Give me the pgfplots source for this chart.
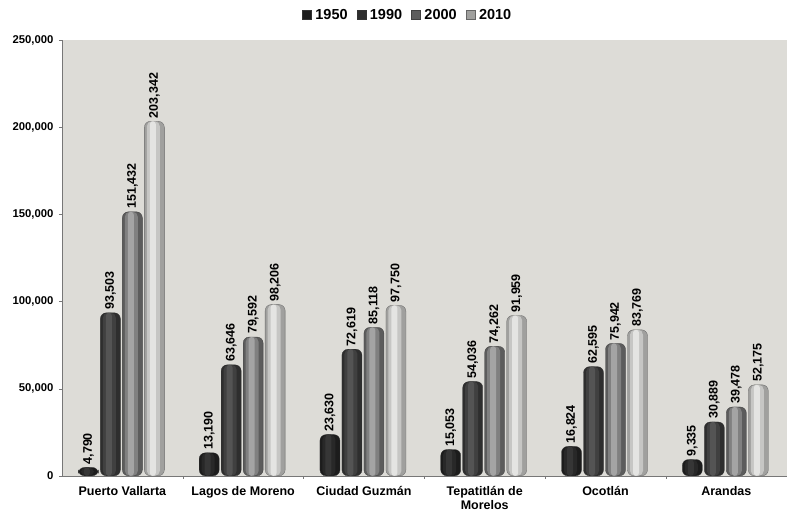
\documentclass[border=0pt]{standalone}
\usepackage{fontspec}
\setmainfont{Liberation Sans}
\usepackage{pgfplots}
\pgfplotsset{compat=1.18}
\definecolor{bg}{HTML}{DDDCD7}
\definecolor{axgray}{HTML}{777777}
% edge / mid / highlight tones of each cylinder
\definecolor{aE}{HTML}{1C1C1C}\definecolor{aM}{HTML}{282828}\definecolor{aH}{HTML}{363636}
\definecolor{bE}{HTML}{2E2E2E}\definecolor{bM}{HTML}{404040}\definecolor{bH}{HTML}{545454}
\definecolor{cE}{HTML}{5C5C5C}\definecolor{cM}{HTML}{808080}\definecolor{cH}{HTML}{A4A4A4}
\definecolor{dE}{HTML}{A0A09E}\definecolor{dM}{HTML}{C6C6C4}\definecolor{dH}{HTML}{E4E4E2}

\pgfplotstableread{
x y
0 4790
1 13190
2 23630
3 15053
4 16824
5 9335
}\tA
\pgfplotstableread{
x y
0 93503
1 63646
2 72619
3 54036
4 62595
5 30889
}\tB
\pgfplotstableread{
x y
0 151432
1 79592
2 85118
3 74262
4 75942
5 39478
}\tC
\pgfplotstableread{
x y
0 203342
1 98206
2 97750
3 91959
4 83769
5 52175
}\tD

\begin{document}
\begin{tikzpicture}
\begin{axis}[
    width=725pt, height=436pt, scale only axis,
    ybar,
    xmin=-0.5, xmax=5.5, ymin=0, ymax=250000,
    axis background/.style={fill=bg},
    axis x line*=bottom, axis y line*=left,
    axis line style={axgray, line width=0.6pt},
    xtick={0,...,5},
    xticklabels={Puerto Vallarta, Lagos de Moreno, Ciudad Guzmán, Tepatitlán de\\Morelos, Ocotlán, Arandas},
    xticklabel style={align=center, yshift=-4pt, font=\bfseries\fontsize{12.5}{13.5}\selectfont},
    major x tick style={draw=none},
    minor xtick={0.5,1.5,...,4.5},
    minor x tick style={axgray},
    minor tick length=3pt,
    ytick={0,50000,...,250000},
    yticklabel style={xshift=-2pt, font=\bfseries\fontsize{11.3}{12}\selectfont},
    scaled y ticks=false,
    tick align=outside,
    major tick length=3pt,
    ytick style={axgray},
    /pgf/number format/.cd, fixed, precision=0, 1000 sep={,}, assume math mode=true,
    /pgfplots/.cd,
    nodes near coords style={rotate=90, anchor=west, inner sep=3pt,
        font=\bfseries\fontsize{12.5}{13}\selectfont},
    legend style={at={(axis description cs:0.477,1)}, anchor=center, yshift=25pt,
        draw=none, fill=none, legend columns=4,
        font=\bfseries\fontsize{14.5}{15}\selectfont,
        /tikz/every odd column/.append style={column sep=2pt},
        /tikz/every even column/.append style={column sep=7pt}},
    legend image code/.code={\fill[#1, sharp corners] (0pt,-4.5pt) rectangle (9pt,4.5pt);},
]
% 1950
\addplot[bar shift=-34pt, bar width=20pt, fill=aE, draw=black!80, line width=0.3pt, rounded corners=6pt, nodes near coords] table {\tA};
\addplot[forget plot, bar shift=-35pt, bar width=13pt, fill=aM, draw=none, rounded corners=5pt] table {\tA};
\addplot[forget plot, bar shift=-35.5pt, bar width=6pt, fill=aH, draw=none, rounded corners=3pt] table {\tA};
% 1990
\addplot[bar shift=-12pt, bar width=20pt, fill=bE, draw=black!80, line width=0.3pt, rounded corners=6pt, nodes near coords] table {\tB};
\addplot[forget plot, bar shift=-13pt, bar width=13pt, fill=bM, draw=none, rounded corners=5pt] table {\tB};
\addplot[forget plot, bar shift=-13.5pt, bar width=6pt, fill=bH, draw=none, rounded corners=3pt] table {\tB};
% 2000
\addplot[bar shift=10pt, bar width=20pt, fill=cE, draw=black!75, line width=0.3pt, rounded corners=6pt, nodes near coords] table {\tC};
\addplot[forget plot, bar shift=9pt, bar width=13pt, fill=cM, draw=none, rounded corners=5pt] table {\tC};
\addplot[forget plot, bar shift=8.5pt, bar width=6pt, fill=cH, draw=none, rounded corners=3pt] table {\tC};
% 2010
\addplot[bar shift=32pt, bar width=20pt, fill=dE, draw=black!60, line width=0.3pt, rounded corners=6pt, nodes near coords] table {\tD};
\addplot[forget plot, bar shift=31pt, bar width=13pt, fill=dM, draw=none, rounded corners=5pt] table {\tD};
\addplot[forget plot, bar shift=30.5pt, bar width=6pt, fill=dH, draw=none, rounded corners=3pt] table {\tD};
\legend{1950,1990,2000,2010}
\end{axis}
% page margins as in the reference
\path (current axis.south west) ++(-62pt,-40pt) (current axis.north east) ++(0pt,40pt);
\end{tikzpicture}
\end{document}
